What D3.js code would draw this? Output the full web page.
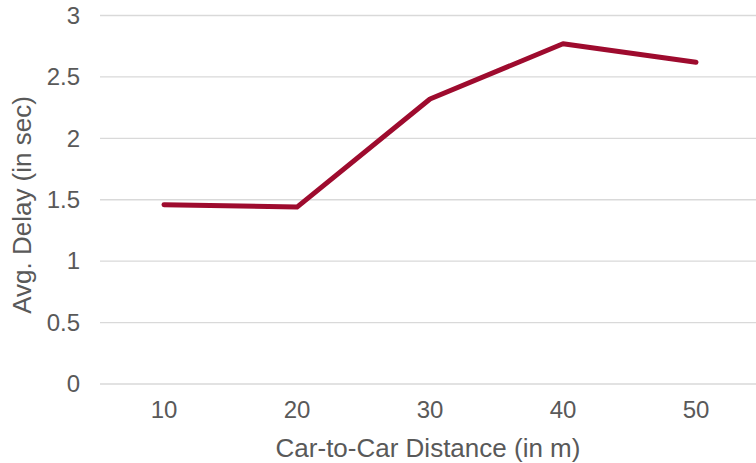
<!DOCTYPE html>
<html>
<head>
<meta charset="utf-8">
<script src="https://cdn.jsdelivr.net/npm/d3@7"></script>
<style>
  html, body { margin: 0; padding: 0; background: #fff; }
  svg { display: block; }
  text { font-family: "Liberation Sans", Arial, sans-serif; fill: #595959; }
</style>
</head>
<body>
<svg id="chart" width="756" height="463"></svg>
<script>
// Average delay per car-to-car distance
const distances = ["10", "20", "30", "40", "50"];
const avgDelay = [1.46, 1.44, 2.32, 2.77, 2.62];
const yTicks = [0, 0.5, 1, 1.5, 2, 2.5, 3];

const svg = d3.select("#chart");
const plot = { left: 100, right: 756, top: 15.5, bottom: 384 };

const x = d3.scaleBand()
  .domain(distances)
  .range([97.5, 762.5]);

const y = d3.scaleLinear()
  .domain([0, 3])
  .range([plot.bottom, plot.top]);

// horizontal gridlines
svg.append("g")
  .selectAll("line")
  .data(yTicks)
  .join("line")
  .attr("x1", plot.left)
  .attr("x2", plot.right)
  .attr("y1", d => y(d))
  .attr("y2", d => y(d))
  .attr("stroke", "#d9d9d9")
  .attr("stroke-width", 1.4);

// y axis labels
const yAxis = svg.append("g")
  .attr("transform", `translate(${plot.left},0)`)
  .call(d3.axisLeft(y).tickValues(yTicks).tickSize(0).tickPadding(20).tickFormat(d3.format("")));
yAxis.select(".domain").remove();
yAxis.selectAll("text").attr("font-size", 24).style("fill", "#595959")
  .style("font-family", "'Liberation Sans', Arial, sans-serif");

// x axis labels
const xAxis = svg.append("g")
  .attr("transform", `translate(0,${plot.bottom})`)
  .call(d3.axisBottom(x).tickSize(0).tickPadding(17));
xAxis.select(".domain").remove();
xAxis.selectAll("text").attr("font-size", 24).style("fill", "#595959")
  .style("font-family", "'Liberation Sans', Arial, sans-serif");

// axis titles
svg.append("text")
  .attr("x", 428)
  .attr("y", 457)
  .attr("text-anchor", "middle")
  .attr("font-size", 26)
  .text("Car-to-Car Distance (in m)");

svg.append("text")
  .attr("transform", "translate(31,205) rotate(-90)")
  .attr("text-anchor", "middle")
  .attr("font-size", 26)
  .text("Avg. Delay (in sec)");

// series line
const line = d3.line()
  .x((d, i) => x(distances[i]) + x.bandwidth() / 2)
  .y(d => y(d));

svg.append("path")
  .datum(avgDelay)
  .attr("d", line)
  .attr("fill", "none")
  .attr("stroke", "#9e0b2e")
  .attr("stroke-width", 5)
  .attr("stroke-linecap", "round")
  .attr("stroke-linejoin", "round");
</script>
</body>
</html>
